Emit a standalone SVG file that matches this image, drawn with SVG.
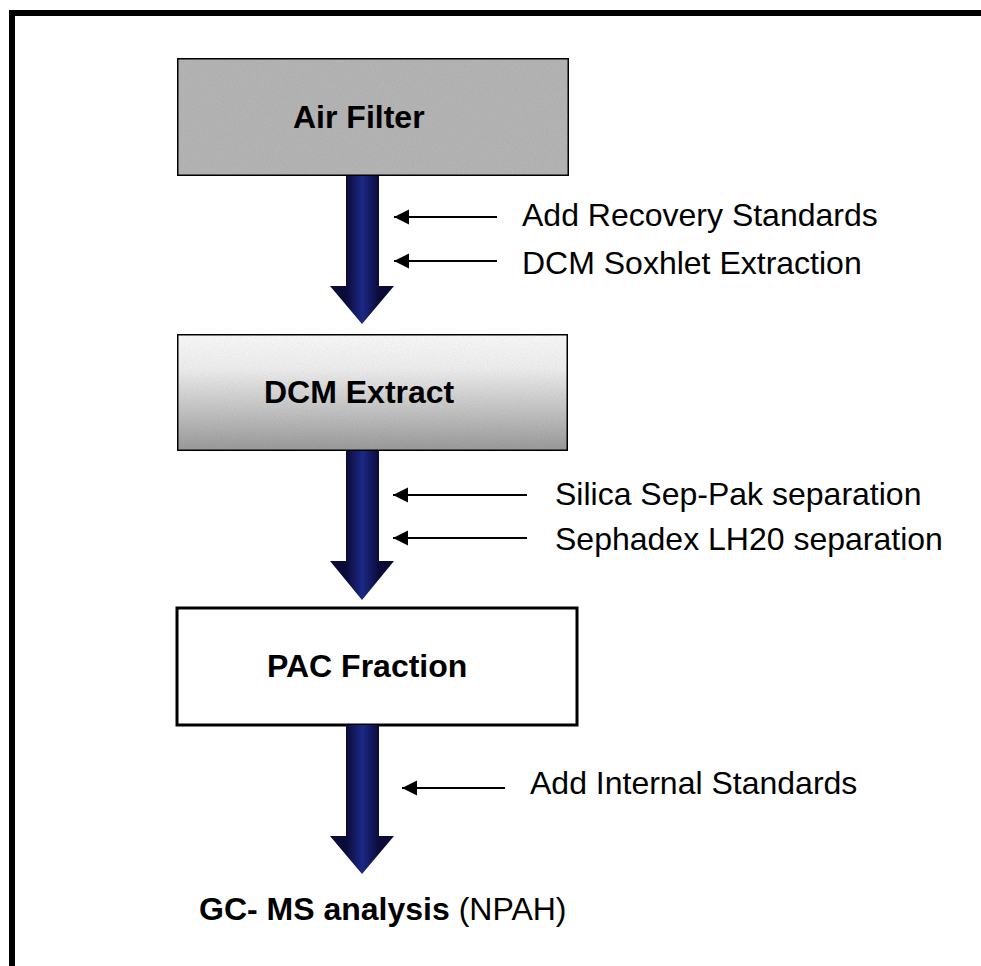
<svg xmlns="http://www.w3.org/2000/svg" width="981" height="966" viewBox="0 0 981 966">
  <style>
    .box { stroke: #000; stroke-width: 3; }
    .title { font-family: "Liberation Sans", Arial, sans-serif; font-weight: bold; font-size: 32px; fill: #000; }
    .step { font-family: "Liberation Sans", Arial, sans-serif; font-size: 32px; fill: #000; }
    .flow { fill: url(#navy); }
    .feed { stroke: #000; stroke-width: 2.2; fill: none; marker-end: url(#head); }
  </style>
  <defs>
    <linearGradient id="navy" gradientUnits="userSpaceOnUse" x1="346" y1="0" x2="379" y2="0">
      <stop offset="0" stop-color="#0b0b38"/>
      <stop offset="0.5" stop-color="#1b2886"/>
      <stop offset="1" stop-color="#0b0b38"/>
    </linearGradient>
    <linearGradient id="shade" x1="0" y1="0" x2="0" y2="1">
      <stop offset="0" stop-color="#ffffff"/>
      <stop offset="0.3" stop-color="#f3f3f3"/>
      <stop offset="1" stop-color="#9d9d9d"/>
    </linearGradient>
    <filter id="grain" x="0" y="0" width="1" height="1">
      <feTurbulence type="fractalNoise" baseFrequency="0.9" numOctaves="2" seed="4" result="n"/>
      <feColorMatrix in="n" type="matrix" values="0 0 0 0 0  0 0 0 0 0  0 0 0 0 0  0 0 0 0.18 0" result="dots"/>
      <feComposite in="dots" in2="SourceGraphic" operator="atop"/>
    </filter>
    <marker id="head" markerWidth="16" markerHeight="16" refX="15" refY="8" orient="auto" markerUnits="userSpaceOnUse">
      <path d="M15,8 L0,0.5 L0,15.5 Z" fill="#000"/>
    </marker>
  </defs>

  <rect x="0" y="0" width="981" height="966" fill="#fff"/>
  <!-- outer frame, running off the right and bottom edges -->
  <rect x="12" y="13" width="1000" height="1000" fill="none" stroke="#000" stroke-width="6"/>

  <g id="air-filter">
    <rect class="box" x="177" y="58" width="392" height="118" fill="#b9b9b9" filter="url(#grain)"/>
    <text class="title" x="293" y="128">Air Filter</text>
  </g>

  <g id="dcm-extract">
    <rect class="box" x="177" y="334" width="391" height="117" fill="url(#shade)" filter="url(#grain)"/>
    <text class="title" x="264" y="403">DCM Extract</text>
  </g>

  <g id="pac-fraction">
    <rect class="box" x="177" y="608" width="400" height="117" fill="#fff"/>
    <text class="title" x="267" y="677">PAC Fraction</text>
  </g>

  <g id="gc-ms">
    <text class="title" x="199" y="920">GC- MS analysis <tspan style="font-weight:normal">(NPAH)</tspan></text>
  </g>

  <g id="connectors">
    <path class="flow" d="M346,176 H379 V286 H394 L362,324 L330,286 H346 Z"/>
    <path class="flow" d="M346,451 H379 V561 H394 L362,600 L330,561 H346 Z"/>
    <path class="flow" d="M346,725 H379 V836 H394 L362,874 L330,836 H346 Z"/>

    <line class="feed" x1="497" y1="217" x2="394" y2="217"/>
    <line class="feed" x1="497" y1="261" x2="394" y2="261"/>
    <line class="feed" x1="527" y1="495" x2="393" y2="495"/>
    <line class="feed" x1="527" y1="538" x2="393" y2="538"/>
    <line class="feed" x1="505" y1="788" x2="402" y2="788"/>
  </g>

  <g id="step-labels">
    <text class="step" x="522" y="226">Add Recovery Standards</text>
    <text class="step" x="522" y="274">DCM Soxhlet Extraction</text>
    <text class="step" x="555" y="505">Silica Sep-Pak separation</text>
    <text class="step" x="555" y="550">Sephadex LH20 separation</text>
    <text class="step" x="530" y="794">Add Internal Standards</text>
  </g>
</svg>
